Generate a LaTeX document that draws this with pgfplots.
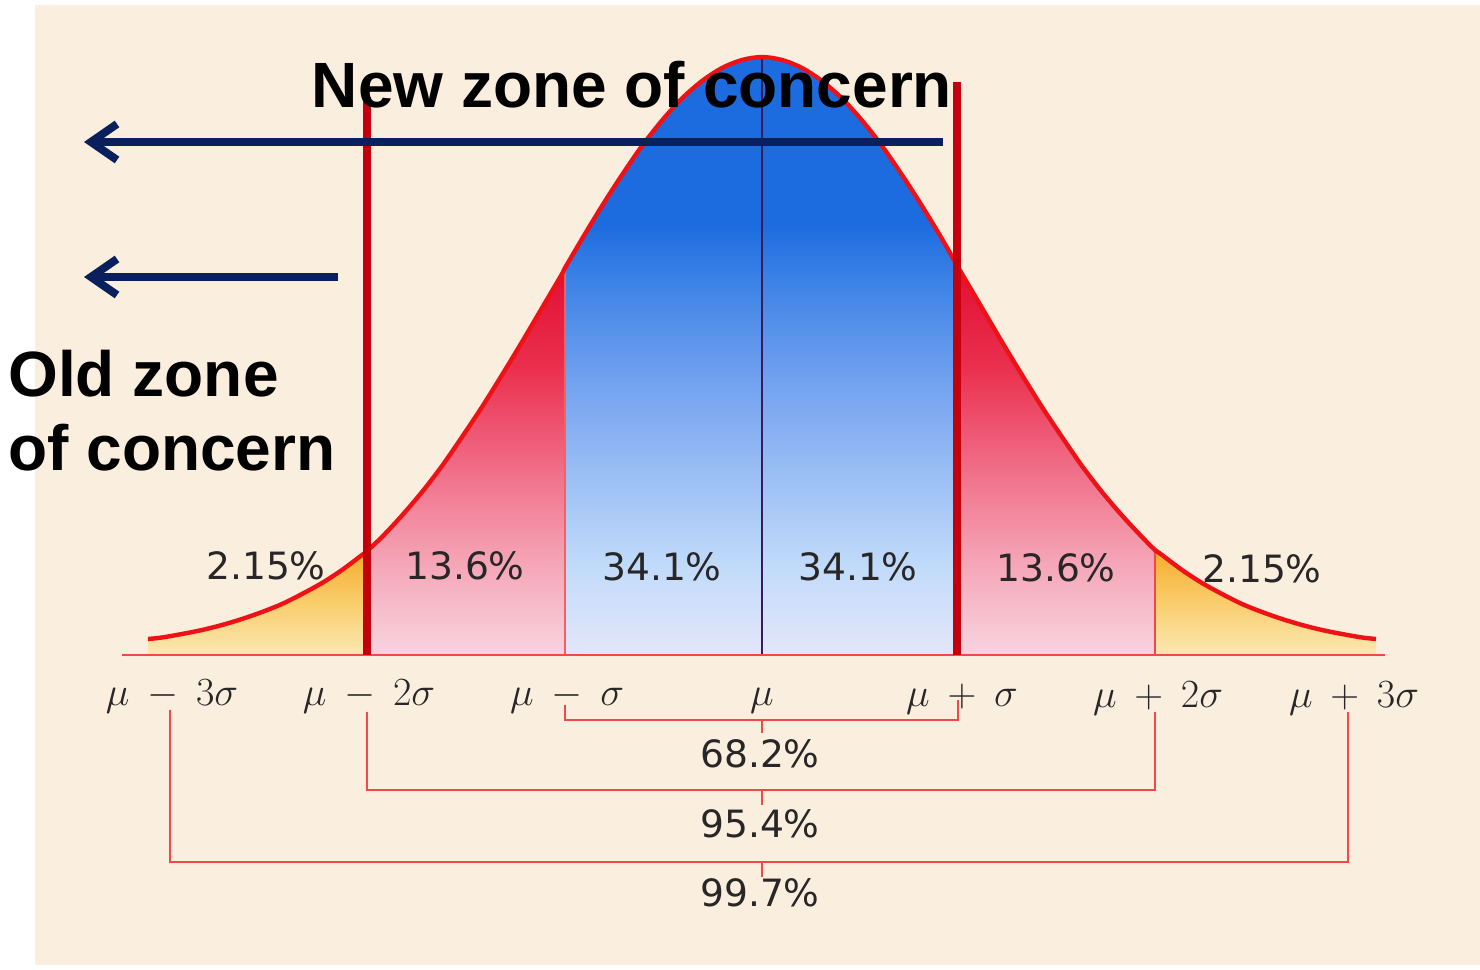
\documentclass[border=0pt]{standalone}
\usepackage{fix-cm}
\usepackage{fontspec}
\setmainfont{Liberation Sans}
\newfontfamily\pctfont{DejaVu Sans}
\usepackage{pgfplots}
\pgfplotsset{compat=1.18}
\usepackage{pgfplotstable}
\usetikzlibrary{arrows.meta}

\definecolor{paper}{RGB}{250,238,222}
\definecolor{navyarrow}{RGB}{10,32,92}
\definecolor{darkred}{RGB}{196,0,12}
\definecolor{curvered}{RGB}{238,18,22}
\definecolor{linered}{RGB}{242,72,72}
\definecolor{labelgray}{RGB}{40,38,38}
\definecolor{centerline}{RGB}{54,28,92}
\definecolor{b0}{RGB}{228,230,250}
\definecolor{b1}{RGB}{195,220,250}
\definecolor{b2}{RGB}{120,165,240}
\definecolor{b3}{RGB}{62,132,230}
\definecolor{b4}{RGB}{28,108,224}
\definecolor{r0}{RGB}{248,212,224}
\definecolor{r1}{RGB}{245,165,182}
\definecolor{r2}{RGB}{240,105,132}
\definecolor{r3}{RGB}{234,48,78}
\definecolor{r4}{RGB}{226,14,52}
\definecolor{o0}{RGB}{251,232,180}
\definecolor{o1}{RGB}{249,205,108}
\definecolor{o2}{RGB}{246,172,44}

\pgfdeclareverticalshading{bluefade}{100bp}{color(0bp)=(b0); color(25bp)=(b0); color(32bp)=(b1); color(47bp)=(b2); color(56bp)=(b3); color(61bp)=(b4); color(75bp)=(b4); color(100bp)=(b4)}
\pgfdeclareverticalshading{redfade}{100bp}{color(0bp)=(r0); color(25bp)=(r0); color(37bp)=(r1); color(50bp)=(r2); color(62bp)=(r3); color(75bp)=(r4); color(100bp)=(r4)}
\pgfdeclareverticalshading{orangefade}{100bp}{color(0bp)=(o0); color(25bp)=(o0); color(50bp)=(o1); color(75bp)=(o2); color(100bp)=(o2)}

\pgfplotstableread{
x h
148 16
162 17.5
182 21
202 25
222 30
242 36
262 43
282 51
302 61
322 72
342 85
362 100
367 104
382 118
402 139.5
422 163
442 189
462 218
482 248
502 280
522 313
542 347
562 381
565 387
582 416
602 449
622 480
642 509
662 534.5
682 556.5
702 574
722 587
742 595
762 598
782 595
802 587
822 574
842 556.5
862 534.5
882 509
902 480
922 449
942 416
958 388
962 381
982 347
1002 313
1022 280
1042 248
1062 218
1082 189
1102 163
1122 139.5
1142 118
1155 105
1162 100
1182 85
1202 72
1222 61
1242 51
1262 43
1282 36
1302 30
1322 25
1342 21
1362 17.5
1376 16
}\curve

\newcommand{\gp}{\mskip8mu}

\begin{document}
\begin{tikzpicture}
\begin{axis}[
  width=740pt, height=485pt, scale only axis,
  xmin=0, xmax=1480, ymin=-315, ymax=655,
  hide axis, clip=false,
]
% background
\fill[white] (axis cs:0,655) rectangle (axis cs:1480,-315);
\fill[paper] (axis cs:35,650) rectangle (axis cs:1480,-310);

% filled regions
\addplot[draw=none, shading=orangefade, smooth, restrict x to domain=147:367.1] table[x=x,y=h]{\curve} \closedcycle;
\addplot[draw=none, shading=redfade, smooth, restrict x to domain=366.9:565.1] table[x=x,y=h]{\curve} \closedcycle;
\addplot[draw=none, shading=bluefade, smooth, restrict x to domain=564.9:958.1] table[x=x,y=h]{\curve} \closedcycle;
\addplot[draw=none, shading=redfade, smooth, restrict x to domain=957.9:1155.1] table[x=x,y=h]{\curve} \closedcycle;
\addplot[draw=none, shading=orangefade, smooth, restrict x to domain=1154.9:1377] table[x=x,y=h]{\curve} \closedcycle;

% thin dividers
\addplot[linered!80!pink, line width=0.8pt] coordinates {(565,0) (565,387)};
\addplot[linered, line width=1pt] coordinates {(1155,0) (1155,105)};
\addplot[centerline, line width=1pt] coordinates {(762,0) (762,598)};

% curve
\addplot[curvered, line width=2.2pt, smooth] table[x=x,y=h]{\curve};

% baseline
\addplot[linered, line width=1.1pt] coordinates {(122,0) (1385,0)};

% thick red lines
\addplot[darkred, line width=4pt] coordinates {(367,0) (367,558)};
\addplot[darkred, line width=4pt] coordinates {(957,0) (957,573)};

% brackets
\addplot[linered, line width=1pt] coordinates {(565,-50) (565,-65) (958,-65) (958,-45)};
\addplot[linered, line width=1pt] coordinates {(762,-65) (762,-78)};
\addplot[linered, line width=1pt] coordinates {(367,-57) (367,-135) (1155,-135) (1155,-57)};
\addplot[linered, line width=1pt] coordinates {(762,-135) (762,-150)};
\addplot[linered, line width=1pt] coordinates {(170,-55) (170,-207) (1348,-207) (1348,-57)};
\addplot[linered, line width=1pt] coordinates {(762,-207) (762,-222)};

% arrows
\draw[navyarrow, line width=4pt, -{Straight Barb[length=13pt,width=18pt]}] (axis cs:943,513) -- (axis cs:84,513);
\draw[navyarrow, line width=4pt, -{Straight Barb[length=13pt,width=18pt]}] (axis cs:338,378) -- (axis cs:84,378);

% percentages
\begin{scope}[every node/.style={anchor=base, text=labelgray, font=\pctfont\fontsize{18.8}{22}\selectfont, inner sep=0pt}]
\node at (axis cs:266,75) {2.15\%};
\node at (axis cs:465,75) {13.6\%};
\node at (axis cs:662,74) {34.1\%};
\node at (axis cs:858,74) {34.1\%};
\node at (axis cs:1056,73) {13.6\%};
\node at (axis cs:1262,72) {2.15\%};
\node at (axis cs:760,-113) {68.2\%};
\node at (axis cs:760,-183) {95.4\%};
\node at (axis cs:760,-252) {99.7\%};
\end{scope}

% sigma labels
\begin{scope}[every node/.style={anchor=base, text=labelgray, font=\fontsize{20}{24}\selectfont, inner sep=0pt}]
\node at (axis cs:172,-51) {$\mu\gp{-}\gp 3\sigma$};
\node at (axis cs:369,-51) {$\mu\gp{-}\gp 2\sigma$};
\node at (axis cs:567,-51) {$\mu\gp{-}\gp \sigma$};
\node at (axis cs:762,-51) {$\mu$};
\node at (axis cs:962,-52) {$\mu\gp{+}\gp \sigma$};
\node at (axis cs:1158,-53) {$\mu\gp{+}\gp 2\sigma$};
\node at (axis cs:1354,-53) {$\mu\gp{+}\gp 3\sigma$};
\end{scope}

% titles
\node[anchor=base, inner sep=0pt, font=\bfseries\fontsize{32}{38}\selectfont] at (axis cs:632,547) {New zone of concern};
\node[anchor=base west, inner sep=0pt, font=\bfseries\fontsize{32}{38}\selectfont] at (axis cs:8,258) {Old zone};
\node[anchor=base west, inner sep=0pt, font=\bfseries\fontsize{32}{38}\selectfont] at (axis cs:8,184) {of concern};
\end{axis}
\end{tikzpicture}
\end{document}
